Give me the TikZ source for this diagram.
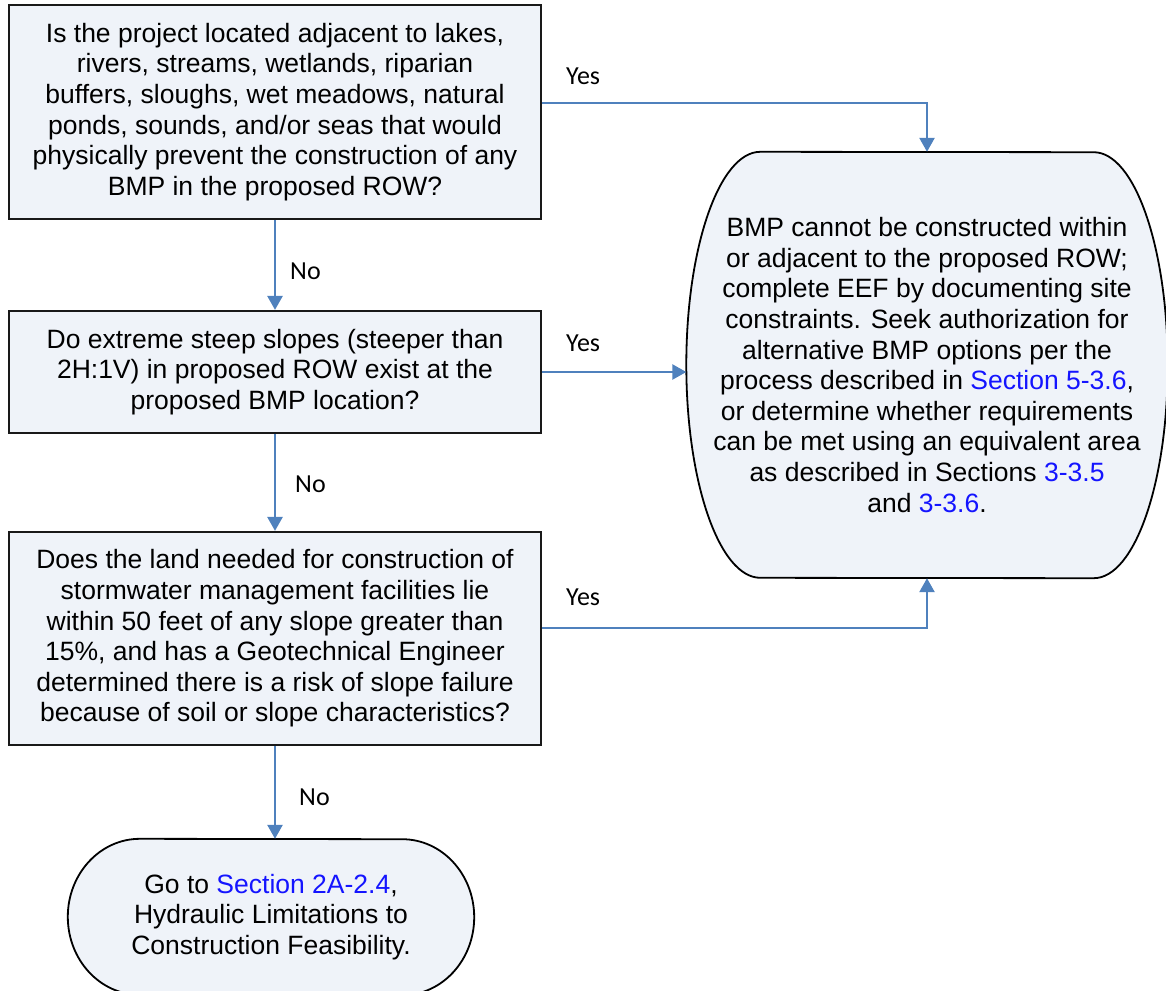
\documentclass[tikz,border=0pt]{standalone}
\usepackage{fontspec}
\setmainfont{Liberation Sans}
\newfontfamily\lblfont{Carlito}
\usetikzlibrary{arrows.meta,backgrounds,calc}
\definecolor{boxfill}{RGB}{239,243,249}
\definecolor{arrowblue}{RGB}{79,129,189}
\definecolor{linkblue}{RGB}{20,20,255}

\begin{document}
\begin{tikzpicture}[x=1pt,y=1pt,
  boxtext/.style={font=\fontsize{26.5}{30.6}\selectfont, align=center, inner sep=0pt},
  qbox/.style={boxtext, rectangle, draw=black!90, line width=2.2pt, fill=boxfill, minimum width=532},
  shapebox/.style={boxtext, rectangle},
  outline/.style={draw=black, line width=1.8pt, fill=boxfill},
  flow/.style={draw=arrowblue, line width=2.6pt, -{Triangle[width=15pt,length=14pt]}},
  lbl/.style={font=\lblfont\fontsize{26}{30}\selectfont, anchor=west, inner sep=0pt},
]
\useasboundingbox (0,0) rectangle (1166,-990);

\node[qbox, minimum height=214] (b1) at (275,-112) {Is the project located adjacent to lakes,\\ rivers, streams, wetlands, riparian\\ buffers, sloughs, wet meadows, natural\\ ponds, sounds, and/or seas that would\\ physically prevent the construction of any\\ BMP in the proposed ROW?};

\node[qbox, minimum height=122] (b2) at (275,-372) {Do extreme steep slopes (steeper than\\ 2H:1V) in proposed ROW exist at the\\ proposed BMP location?};

\node[qbox, minimum height=213] (b3) at (275,-638.5) {Does the land needed for construction of\\ stormwater management facilities lie\\ within 50 feet of any slope greater than\\ 15\%, and has a Geotechnical Engineer\\ determined there is a risk of slope failure\\ because of soil or slope characteristics?};

\node[shapebox, minimum width=481, minimum height=426] (r) at (927,-365) {BMP cannot be constructed within\\ or adjacent to the proposed ROW;\\ complete EEF by documenting site\\ constraints. Seek authorization for\\ alternative BMP options per the\\ process described in \textcolor{linkblue}{Section 5-3.6},\\ or determine whether requirements\\ can be met using an equivalent area\\ as described in Sections \textcolor{linkblue}{3-3.5}\\ and \textcolor{linkblue}{3-3.6}.};

\node[shapebox, minimum width=406, minimum height=156] (t) at (271,-917) {Go to \textcolor{linkblue}{Section 2A-2.4},\\ Hydraulic Limitations to\\ Construction Feasibility.};

\begin{scope}[on background layer]
\path[outline] ($(r.north west)+(74,0)$) arc[start angle=90,end angle=270,x radius=74,y radius=213]
  -- ($(r.south east)+(-74,0)$) arc[start angle=-90,end angle=90,x radius=74,y radius=213] -- cycle;
\path[outline] ($(t.north west)+(72,0)$) arc[start angle=90,end angle=270,x radius=72,y radius=78]
  -- ($(t.south east)+(-72,0)$) arc[start angle=-90,end angle=90,x radius=72,y radius=78] -- cycle;
\end{scope}

\coordinate (y1) at ($(b1.east)+(0,9)$);
\coordinate (y3) at ($(b3.east)+(0,10.5)$);
\draw[flow] (y1) -| (r.north);
\draw[flow] (b2.east) -- (b2.east -| r.west);
\draw[flow] (y3) -| (r.south);
\draw[flow] (b1.south) -- (b2.north);
\draw[flow] (b2.south) -- (b3.north);
\draw[flow] (b3.south) -- (b3.south |- t.north);

\node[lbl] (yes1) at (566,-76) {Yes};
\node[lbl] (yes2) at (566,-343) {Yes};
\node[lbl] (yes3) at (566,-597) {Yes};
\node[lbl] (no1) at (290,-271) {No};
\node[lbl] (no2) at (295,-484) {No};
\node[lbl] (no3) at (299,-797) {No};
\end{tikzpicture}
\end{document}
